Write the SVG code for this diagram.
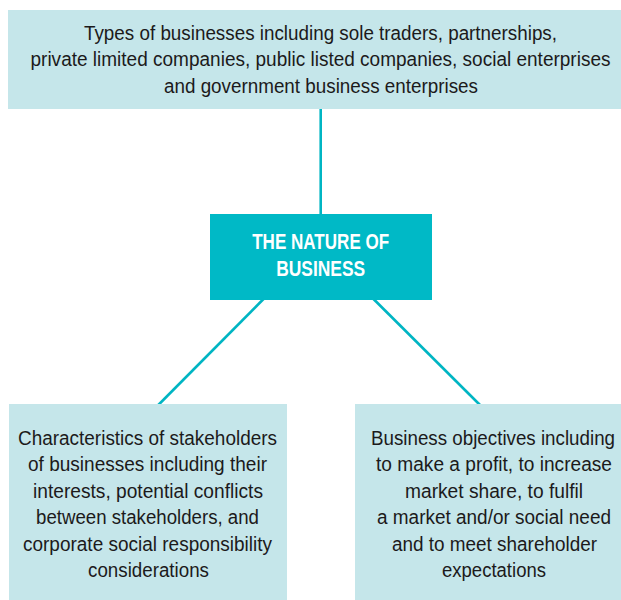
<svg xmlns="http://www.w3.org/2000/svg" width="621" height="600" viewBox="0 0 621 600">
<style>
.lb{fill:#C5E6EA}
.cb{fill:#00B9C6}
.t{font-family:"Liberation Sans Narrow","Liberation Sans",Arial,sans-serif;font-size:20px;fill:#1c1a1b;text-anchor:middle}
.h{font-family:"Liberation Sans Narrow","Liberation Sans",Arial,sans-serif;font-size:21.5px;font-weight:bold;fill:#ffffff;text-anchor:middle}
.c{stroke:#00B5C3;stroke-width:2.6;fill:none}
</style>
<rect width="621" height="600" fill="#ffffff"/>
<g id="connectors">
<line class="c" x1="320.7" y1="108" x2="320.7" y2="215"/>
<line class="c" x1="263.5" y1="299" x2="158.3" y2="405"/>
<line class="c" x1="373.5" y1="299" x2="480" y2="405"/>
</g>
<g id="types">
<rect class="lb" x="8" y="10" width="613" height="99"/>
<text class="t" x="320.5" y="39.5" textLength="473" lengthAdjust="spacingAndGlyphs">Types of businesses including sole traders, partnerships,</text>
<text class="t" x="320.5" y="66" textLength="580" lengthAdjust="spacingAndGlyphs">private limited companies, public listed companies, social enterprises</text>
<text class="t" x="321" y="92.5" textLength="314" lengthAdjust="spacingAndGlyphs">and government business enterprises</text>
</g>
<g id="nature">
<rect class="cb" x="210" y="214" width="222" height="86"/>
<text class="h" x="320.7" y="249.3" textLength="137" lengthAdjust="spacingAndGlyphs">THE NATURE OF</text>
<text class="h" x="320.7" y="275.7" textLength="89" lengthAdjust="spacingAndGlyphs">BUSINESS</text>
</g>
<g id="stakeholders">
<rect class="lb" x="9" y="404" width="278" height="196"/>
<text class="t" x="147.5" y="444.5" textLength="259" lengthAdjust="spacingAndGlyphs">Characteristics of stakeholders</text>
<text class="t" x="147.5" y="471" textLength="239" lengthAdjust="spacingAndGlyphs">of businesses including their</text>
<text class="t" x="148" y="497.5" textLength="230" lengthAdjust="spacingAndGlyphs">interests, potential conflicts</text>
<text class="t" x="147.5" y="524" textLength="223" lengthAdjust="spacingAndGlyphs">between stakeholders, and</text>
<text class="t" x="147.5" y="550.5" textLength="249" lengthAdjust="spacingAndGlyphs">corporate social responsibility</text>
<text class="t" x="148.5" y="577" textLength="121" lengthAdjust="spacingAndGlyphs">considerations</text>
</g>
<g id="objectives">
<rect class="lb" x="355" y="404" width="266" height="196"/>
<text class="t" x="493" y="444.5" textLength="244" lengthAdjust="spacingAndGlyphs">Business objectives including</text>
<text class="t" x="494" y="471" textLength="236" lengthAdjust="spacingAndGlyphs">to make a profit, to increase</text>
<text class="t" x="494" y="497.5" textLength="178" lengthAdjust="spacingAndGlyphs">market share, to fulfil</text>
<text class="t" x="494" y="524" textLength="234" lengthAdjust="spacingAndGlyphs">a market and/or social need</text>
<text class="t" x="494.5" y="550.5" textLength="205" lengthAdjust="spacingAndGlyphs">and to meet shareholder</text>
<text class="t" x="494" y="577" textLength="104" lengthAdjust="spacingAndGlyphs">expectations</text>
</g>
</svg>
